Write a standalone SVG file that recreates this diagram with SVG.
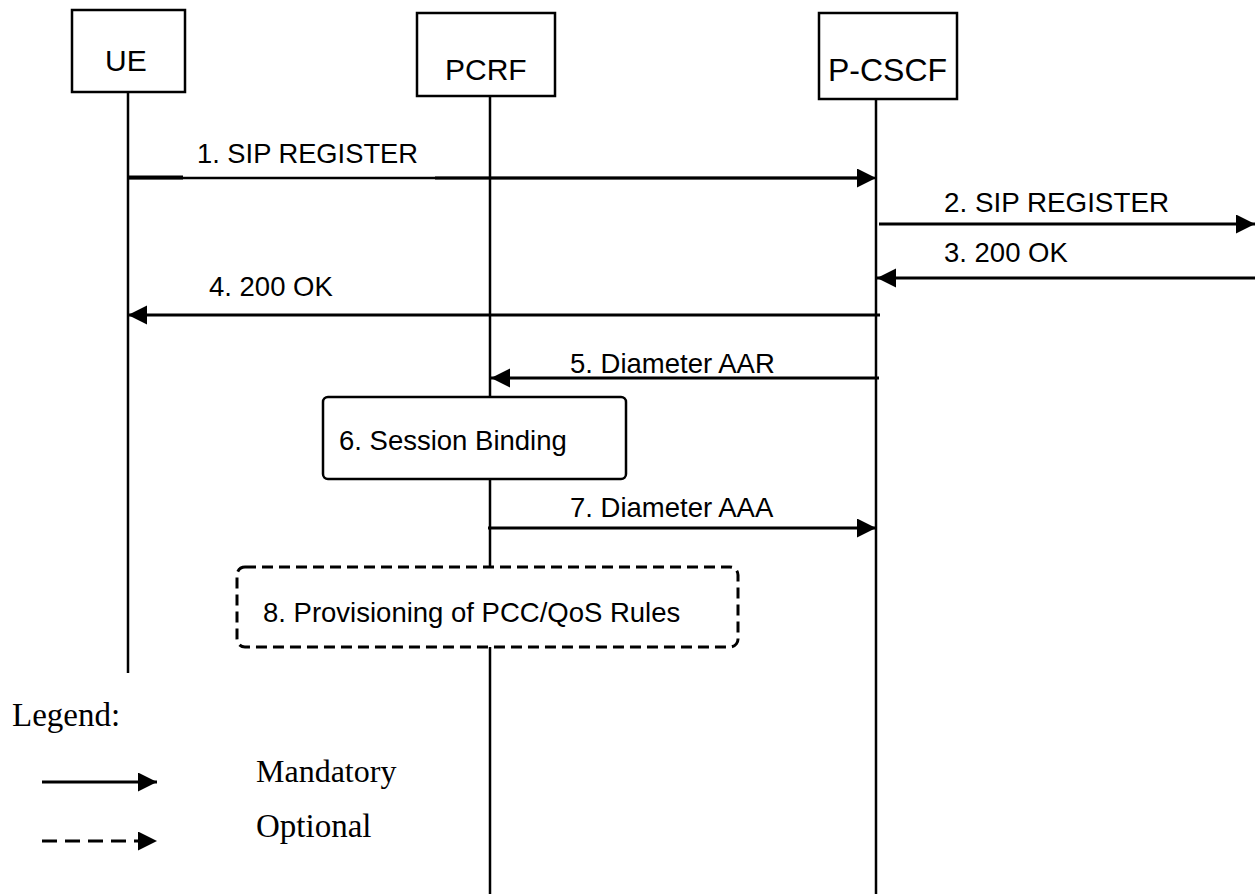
<svg xmlns="http://www.w3.org/2000/svg" width="1255" height="894" viewBox="0 0 1255 894">
<style>
.box{fill:#fff;stroke:#000;stroke-width:2.5}
.life{stroke:#000;stroke-width:2.5;fill:none}
.msg{stroke:#000;stroke-width:3;fill:none}
.lbl{font-family:"Liberation Sans",Arial,sans-serif;font-size:27.5px;fill:#000}
.hdr{font-family:"Liberation Sans",Arial,sans-serif;font-size:30px;fill:#000}
.leg{font-family:"Liberation Serif","Times New Roman",serif;font-size:33px;fill:#000}
</style>
<defs>
<marker id="ah" markerUnits="userSpaceOnUse" markerWidth="20" markerHeight="20" refX="19" refY="9.5" orient="auto">
<path d="M0,0 L19,9.5 L0,19 z" fill="#000"/>
</marker>
</defs>
<rect width="1255" height="894" fill="#fff"/>
<g id="lifelines">
<line class="life" x1="128" y1="92" x2="128" y2="673"/>
<line class="life" x1="490" y1="96" x2="490" y2="894"/>
<line class="life" x1="876" y1="92" x2="876" y2="894"/>
</g>
<g id="UE">
<rect class="box" x="72" y="10" width="113" height="82"/>
<text class="hdr" x="105" y="71">UE</text>
</g>
<g id="PCRF">
<rect class="box" x="417" y="13" width="138" height="83"/>
<text class="hdr" x="445" y="80">PCRF</text>
</g>
<g id="P-CSCF">
<rect class="box" x="819" y="13" width="138" height="86"/>
<text class="hdr" x="828" y="81" textLength="119" lengthAdjust="spacingAndGlyphs" style="font-size:31px">P-CSCF</text>
</g>
<g id="connectors">
<line class="msg" x1="128" y1="178" x2="876" y2="178" marker-end="url(#ah)" style="stroke-width:2.5"/>
<line x1="128" y1="177.5" x2="183" y2="177.5" stroke="#000" stroke-width="4"/>
<line x1="435" y1="178" x2="860" y2="178" stroke="#000" stroke-width="3.2"/>
<line class="msg" x1="879" y1="224" x2="1255" y2="224" marker-end="url(#ah)"/>
<line class="msg" x1="1255" y1="278" x2="877" y2="278" marker-end="url(#ah)"/>
<line class="msg" x1="880" y1="315" x2="128" y2="315" marker-end="url(#ah)"/>
<line class="msg" x1="879" y1="378" x2="491" y2="378" marker-end="url(#ah)"/>
<line class="msg" x1="488" y1="528" x2="876" y2="528" marker-end="url(#ah)"/>
</g>
<g id="labels">
<text class="lbl" x="197" y="163" textLength="221" lengthAdjust="spacingAndGlyphs">1. SIP REGISTER</text>
<text class="lbl" x="944" y="212" textLength="225" lengthAdjust="spacingAndGlyphs">2. SIP REGISTER</text>
<text class="lbl" x="944" y="262">3. 200 OK</text>
<text class="lbl" x="209" y="296">4. 200 OK</text>
<text class="lbl" x="570" y="373">5. Diameter AAR</text>
<text class="lbl" x="570" y="517">7. Diameter AAA</text>
</g>
<g id="session-binding">
<rect class="box" x="323" y="397" width="303" height="82" rx="5"/>
<text class="lbl" x="339" y="450">6. Session Binding</text>
</g>
<g id="provisioning">
<rect x="237" y="567" width="501" height="80" rx="8" fill="#fff" stroke="#000" stroke-width="3" stroke-dasharray="11,6"/>
<text class="lbl" x="263" y="622">8. Provisioning of PCC/QoS Rules</text>
</g>
<g id="legend">
<text class="leg" x="12" y="726">Legend:</text>
<line class="msg" x1="42" y1="782" x2="157" y2="782" marker-end="url(#ah)"/>
<line class="msg" x1="42" y1="841" x2="157" y2="841" stroke-dasharray="15,8" marker-end="url(#ah)"/>
<text class="leg" x="256" y="782" style="font-size:32px">Mandatory</text>
<text class="leg" x="256" y="837">Optional</text>
</g>
</svg>
